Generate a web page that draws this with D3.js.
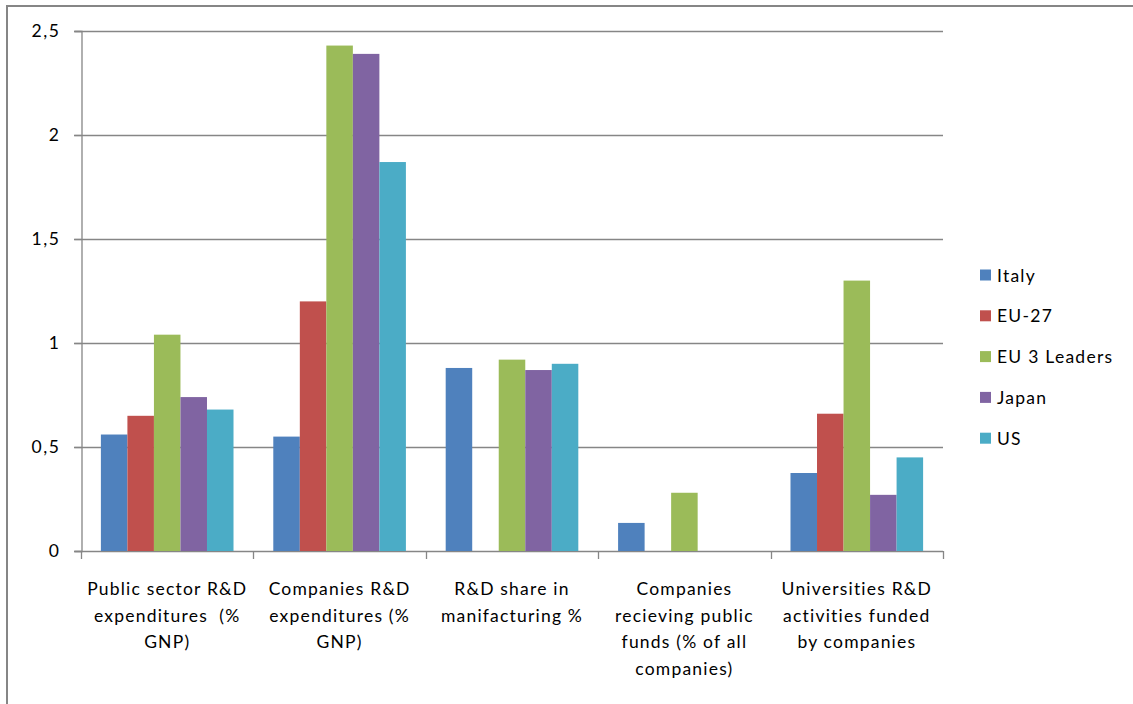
<!DOCTYPE html>
<html>
<head>
<meta charset="utf-8">
<script src="https://cdn.jsdelivr.net/npm/d3@7"></script>
<style>
  html, body { margin: 0; padding: 0; background: #fff; }
  svg { display: block; }
  text { font-family: Lato, "Open Sans", sans-serif; fill: #000; white-space: pre; }
</style>
</head>
<body>
<svg id="chart" width="1133" height="704"></svg>
<script>
// Indicator groups (x axis), one label line per array entry
const categories = [
  ["Public sector R&D", "expenditures  (%", "GNP)"],
  ["Companies R&D", "expenditures (%", "GNP)"],
  ["R&D share in", "manifacturing %"],
  ["Companies", "recieving public", "funds (% of all", "companies)"],
  ["Universities R&D", "activities funded", "by companies"]
];

const seriesNames = ["Italy", "EU-27", "EU 3 Leaders", "Japan", "US"];
const seriesColors = ["#4F81BD", "#C0504D", "#9BBB59", "#8064A2", "#4BACC6"];

// Values per series, in category order (null = no data)
const italy     = [0.56, 0.55, 0.88, 0.135, 0.375];
const eu27      = [0.65, 1.20, null, null, 0.66];
const eu3Leader = [1.04, 2.43, 0.92, 0.28, 1.30];
const japan     = [0.74, 2.39, 0.87, null, 0.27];
const us        = [0.68, 1.87, 0.90, null, 0.45];

const yTicks = [0, 0.5, 1, 1.5, 2, 2.5];

const seriesValues = [italy, eu27, eu3Leader, japan, us];

const svg = d3.select("#chart");
const grey = "#868686";

// Outer chart frame
svg.append("rect")
  .attr("x", 7).attr("y", 6)
  .attr("width", 1200).attr("height", 800)
  .attr("fill", "none").attr("stroke", grey).attr("stroke-width", 2);

const plot = { left: 81, right: 943, top: 31, bottom: 551 };

const x0 = d3.scaleBand()
  .domain(d3.range(categories.length))
  .range([plot.left, plot.right])
  .paddingInner(0).paddingOuter(0);

// Gap of 150% of a bar width, split across both sides of each group
const x1 = d3.scaleBand()
  .domain(d3.range(seriesNames.length))
  .range([0, x0.bandwidth()])
  .paddingInner(0)
  .paddingOuter(0.75);

const y = d3.scaleLinear().domain([0, 2.5]).range([plot.bottom, plot.top]);

// Horizontal gridlines
svg.append("g")
  .selectAll("line")
  .data(yTicks)
  .join("line")
  .attr("x1", plot.left - 7).attr("x2", plot.right)
  .attr("y1", d => Math.round(y(d)) + 0.5).attr("y2", d => Math.round(y(d)) + 0.5)
  .attr("stroke", grey).attr("stroke-width", 1.3);

// Bars
const groups = svg.append("g")
  .selectAll("g")
  .data(categories.map((c, i) => i))
  .join("g")
  .attr("transform", i => `translate(${x0(i)},0)`);

groups.selectAll("rect")
  .data(ci => seriesValues.map((vals, si) => ({ si, v: vals[ci] })).filter(d => d.v != null))
  .join("rect")
  .attr("x", d => x1(d.si))
  .attr("width", x1.bandwidth())
  .attr("y", d => y(d.v))
  .attr("height", d => y(0) - y(d.v))
  .attr("fill", d => seriesColors[d.si]);

// Y axis
const yAxis = d3.axisLeft(y)
  .tickValues(yTicks)
  .tickSize(7)
  .tickPadding(14)
  .tickFormat(d => d3.format("")(d).replace(".", ","));

const yg = svg.append("g")
  .attr("transform", `translate(${plot.left + 0.5},0)`)
  .call(yAxis);
yg.select(".domain").attr("stroke", grey).attr("stroke-width", 1.3);
yg.selectAll(".tick line").attr("stroke", grey).attr("stroke-width", 1.3);
yg.selectAll(".tick text")
  .style("font-family", "Lato, sans-serif")
  .style("font-size", "17.5px")
  .style("letter-spacing", "1.6px")
  .attr("fill", "#000");

// X axis category separator ticks
const xBounds = d3.range(categories.length + 1).map(i => i === categories.length ? plot.right : x0(i));
svg.append("g")
  .selectAll("line")
  .data(xBounds)
  .join("line")
  .attr("x1", d => Math.round(d) + 0.5).attr("x2", d => Math.round(d) + 0.5)
  .attr("y1", plot.bottom).attr("y2", plot.bottom + 8)
  .attr("stroke", grey).attr("stroke-width", 1.3);

// Category labels
const labels = svg.append("g")
  .selectAll("text")
  .data(categories)
  .join("text")
  .attr("text-anchor", "middle")
  .style("font-size", "17.5px")
  .style("letter-spacing", "1.2px")
  .attr("transform", (d, i) => `translate(${x0(i) + x0.bandwidth() / 2},${595})`);

labels.selectAll("tspan")
  .data(d => d)
  .join("tspan")
  .attr("x", 0)
  .attr("dy", (d, i) => i === 0 ? 0 : 26.5)
  .text(d => d);

// Legend
const legend = svg.append("g")
  .selectAll("g")
  .data(seriesNames)
  .join("g")
  .attr("transform", (d, i) => `translate(980,${275 + i * 40.8})`);

legend.append("rect")
  .attr("x", 0).attr("y", -5.5)
  .attr("width", 11).attr("height", 11)
  .attr("fill", (d, i) => seriesColors[i]);

legend.append("text")
  .attr("x", 17).attr("y", 0)
  .attr("dominant-baseline", "central")
  .style("font-size", "17.5px")
  .style("letter-spacing", "1.25px")
  .text(d => d);
</script>
</body>
</html>
